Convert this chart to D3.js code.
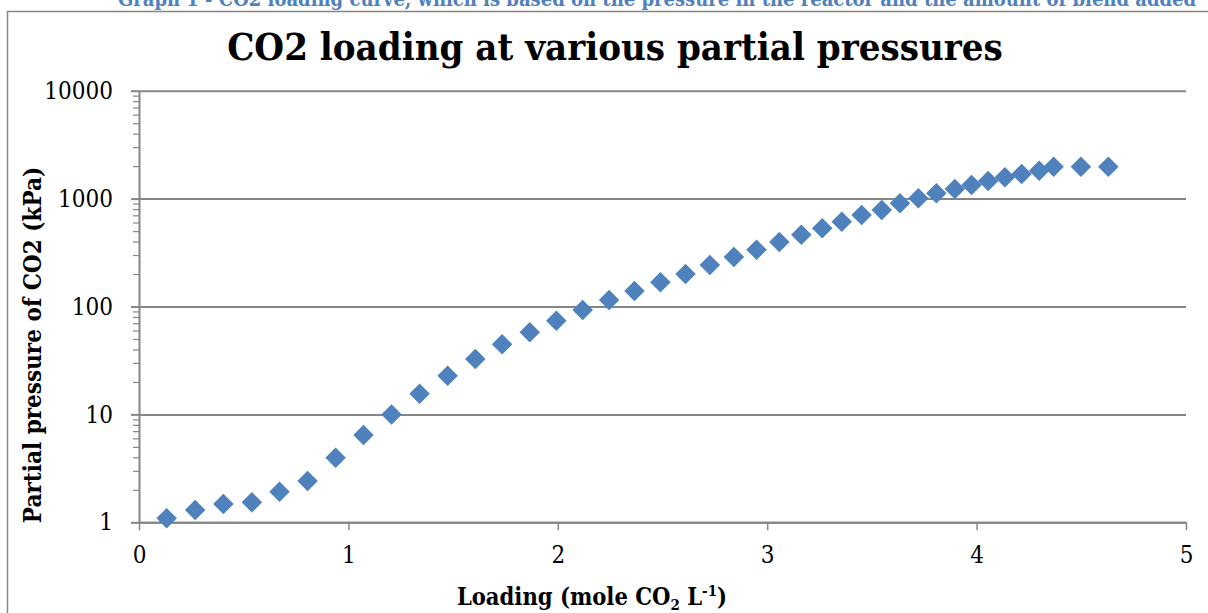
<!DOCTYPE html>
<html>
<head>
<meta charset="utf-8">
<script src="https://cdn.jsdelivr.net/npm/d3@7"></script>
<style>
  body { margin: 0; background: #fff; }
  svg { display: block; font-family: "DejaVu Serif Condensed", "DejaVu Serif", serif; }
</style>
</head>
<body>
<svg id="chart" width="1208" height="613"></svg>
<script>
// loading (mole CO2 / L) and partial pressure (kPa)
const loading = [0.132, 0.268, 0.403, 0.539, 0.671, 0.805, 0.939, 1.072, 1.206, 1.340,
  1.474, 1.606, 1.734, 1.866, 1.993, 2.119, 2.245, 2.366, 2.490, 2.610,
  2.726, 2.841, 2.949, 3.058, 3.163, 3.263, 3.356, 3.451, 3.547, 3.634,
  3.722, 3.808, 3.896, 3.976, 4.055, 4.135, 4.215, 4.299, 4.368, 4.498, 4.629];
const pressure = [1.09, 1.30, 1.48, 1.53, 1.92, 2.41, 3.97, 6.44, 10.0, 15.5,
  22.8, 32.6, 44.6, 57.7, 73.8, 92.9, 115, 139, 168, 200,
  243, 288, 336, 396, 463, 531, 611, 705, 784, 904,
  1006, 1120, 1228, 1337, 1456, 1574, 1690, 1815, 1976, 1976, 1976];
const xTicks = [0, 1, 2, 3, 4, 5];
const yTicks = [1, 10, 100, 1000, 10000];

const svg = d3.select('#chart');
const gray = '#868686';
const blue = '#4F81BD';
const font = '"DejaVu Serif Condensed", "DejaVu Serif", serif';

// outer chart frame
svg.append('rect')
  .attr('x', 7.5).attr('y', 11.5)
  .attr('width', 1220).attr('height', 640)
  .attr('fill', 'none').attr('stroke', gray).attr('stroke-width', 1.5);

// caption above the chart (cut off at the top, as in the source)
svg.append('text')
  .attr('x', 657).attr('y', 6)
  .attr('text-anchor', 'middle')
  .attr('fill', blue).attr('font-weight', 'bold').attr('font-size', 20)
  .text('Graph 1 - CO2 loading curve, which is based on the pressure in the reactor and the amount of blend added');

svg.append('text')
  .attr('x', 615).attr('y', 60)
  .attr('text-anchor', 'middle')
  .attr('font-weight', 'bold').attr('font-size', 38)
  .text('CO2 loading at various partial pressures');

const x = d3.scaleLinear().domain([0, 5]).range([139, 1186]);
const y = d3.scaleLog().domain([1, 10000]).range([522.3, 90.7]);

// grid lines
svg.append('g')
  .attr('transform', `translate(${x(0)},0)`)
  .call(d3.axisLeft(y).tickValues(yTicks).tickSize(-(x(5) - x(0))).tickFormat(''))
  .call(g => g.select('.domain').remove())
  .call(g => g.selectAll('line').attr('stroke', gray).attr('stroke-width', 2));

// minor ticks on the log axis
const minor = [];
yTicks.slice(0, -1).forEach(d => { for (let k = 2; k < 10; k++) minor.push(d * k); });
svg.append('g')
  .attr('transform', `translate(${x(0)},0)`)
  .call(d3.axisLeft(y).tickValues(minor).tickSize(6).tickFormat(''))
  .call(g => g.select('.domain').remove())
  .call(g => g.selectAll('line').attr('stroke', gray).attr('stroke-width', 1.2));

// y axis
svg.append('g')
  .attr('transform', `translate(${x(0)},0)`)
  .call(d3.axisLeft(y).tickValues(yTicks).tickSize(8).tickPadding(18).tickSizeOuter(0).tickFormat(d3.format('d')))
  .attr('font-family', font).attr('font-size', 24)
  .call(g => g.select('.domain').attr('stroke', gray).attr('stroke-width', 2))
  .call(g => g.selectAll('line').attr('stroke', gray).attr('stroke-width', 2))
  .call(g => g.selectAll('text').attr('fill', '#000'));

// x axis
svg.append('g')
  .attr('transform', `translate(0,${y(1)})`)
  .call(d3.axisBottom(x).tickValues(xTicks).tickSize(8).tickPadding(16).tickSizeOuter(0).tickFormat(d3.format('d')))
  .attr('font-family', font).attr('font-size', 24)
  .call(g => g.select('.domain').attr('stroke', gray).attr('stroke-width', 2))
  .call(g => g.selectAll('line').attr('stroke', gray).attr('stroke-width', 1.5))
  .call(g => g.selectAll('text').attr('fill', '#000'));

// axis titles
svg.append('text')
  .attr('transform', 'translate(41,345) rotate(-90)')
  .attr('text-anchor', 'middle')
  .attr('font-weight', 'bold').attr('font-size', 24)
  .text('Partial pressure of CO2 (kPa)');

const xt = svg.append('text')
  .attr('x', 592).attr('y', 605)
  .attr('text-anchor', 'middle')
  .attr('font-weight', 'bold').attr('font-size', 23.5);
xt.append('tspan').text('Loading (mole CO');
xt.append('tspan').attr('font-size', 15).attr('dy', 5).text('2');
xt.append('tspan').attr('dy', -5).text(' L');
xt.append('tspan').attr('font-size', 15).attr('dy', -9).text('-1');
xt.append('tspan').attr('dy', 9).text(')');

// diamond markers
const pts = loading.map((d, i) => ({ x: d, y: pressure[i] }));
svg.append('g')
  .selectAll('path')
  .data(pts)
  .join('path')
  .attr('d', d3.symbol(d3.symbolSquare, 210))
  .attr('transform', d => `translate(${x(d.x)},${y(d.y)}) rotate(45)`)
  .attr('fill', blue);
</script>
</body>
</html>
